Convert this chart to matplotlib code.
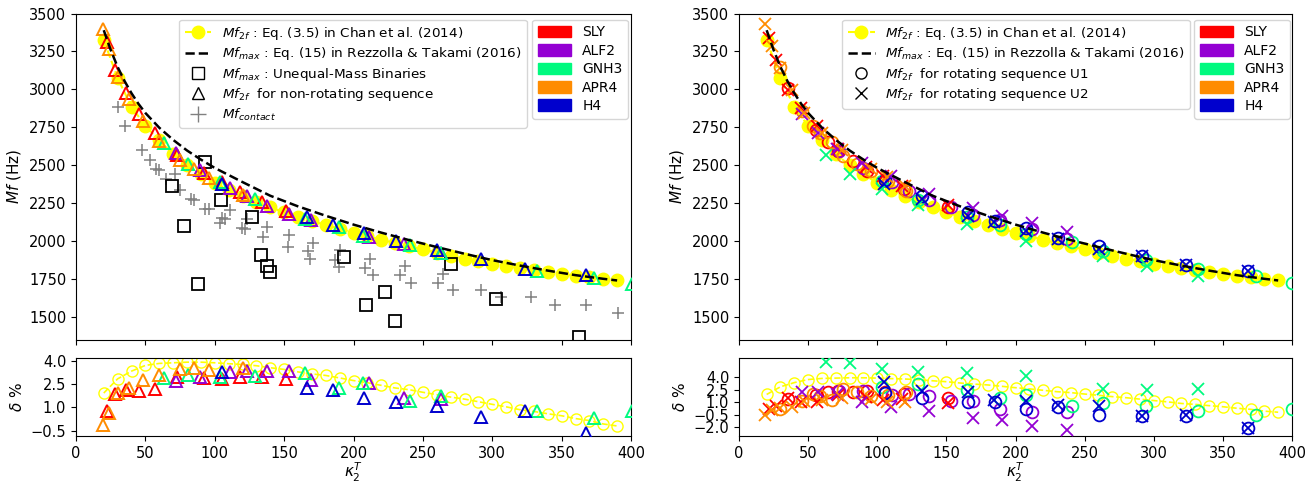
import matplotlib
matplotlib.use("Agg")
import matplotlib.pyplot as plt
from matplotlib.lines import Line2D
from matplotlib.patches import Patch

# Rezzolla & Takami (2016), Eq. (15)
kappa_rt = [20, 25, 30, 35, 40, 45, 50, 60, 70, 80, 90, 100, 120, 140, 160, 180, 200,
            220, 240, 260, 280, 300, 320, 340, 360, 380, 390]
mf_rt = [3390, 3260, 3148, 3055, 2975, 2905, 2845, 2748, 2668, 2598, 2538, 2483, 2390, 2300,
         2230, 2168, 2110, 2057, 2008, 1962, 1918, 1876, 1840, 1807, 1777, 1753, 1742]

# Chan et al. (2014), Eq. (3.5)
kappa_chan = list(range(20, 400, 10))
mf_chan = [3325, 3075, 2885, 2760, 2665, 2575, 2500, 2440, 2385, 2338, 2297, 2260, 2224,
           2191, 2161, 2134, 2108, 2083, 2057, 2033, 2010, 1989, 1967, 1946, 1925, 1905,
           1886, 1868, 1850, 1836, 1822, 1809, 1795, 1783, 1772, 1762, 1754, 1745]
delta_chan = [1.93, 2.85, 3.35, 3.72, 3.85, 3.89, 3.93, 3.93, 3.89, 3.83, 3.78, 3.70, 3.57,
              3.46, 3.30, 3.17, 3.07, 2.91, 2.74, 2.60, 2.43, 2.26, 2.15, 1.98, 1.83, 1.67,
              1.54, 1.37, 1.20, 1.04, 0.85, 0.74, 0.59, 0.46, 0.28, 0.15, -0.07, -0.20]

# Unequal-mass binaries
kappa_unequal = [93, 69.1, 77.6, 87.9, 104.5, 126.7, 133, 137.6, 139.7, 193, 208.8, 222.7,
                 229.7, 270.6, 302.4, 362.7]
mf_unequal = [2521, 2365, 2103, 1720, 2273, 2159, 1913, 1840, 1800, 1899, 1580, 1663, 1474,
              1848, 1618, 1370]

# contact frequency
kappa_contact = [30.5, 35.5, 47.5, 53.3, 58, 60, 65.2, 71.5, 75, 83, 85.3, 93.3, 95.5, 103.5,
                 105.5, 107.5, 111, 119.5, 121.5, 123.5, 135, 138, 153.5, 152.5, 170.7, 167,
                 168.8, 190.4, 186.8, 189.9, 212, 208.4, 214.4, 237.3, 233.2, 241.3, 264.5,
                 261, 271.4, 292.2, 306.3, 327.6, 345.4, 367.4, 390.4]
mf_contact = [2883, 2758, 2602, 2536, 2475, 2468, 2412, 2443, 2338, 2278, 2270, 2215, 2210,
              2120, 2151, 2144, 2206, 2089, 2078, 2149, 2030, 2097, 2044, 1965, 1991, 1935,
              1881, 1940, 1877, 1832, 1885, 1824, 1780, 1838, 1775, 1728, 1787, 1728, 1678,
              1678, 1630, 1630, 1578, 1582, 1530]

eos_names = ["SLY", "ALF2", "GNH3", "APR4", "H4"]
eos_colors = ["#ff0000", "#9400d3", "#00fa7f", "#ff8c00", "#0000cd"]

# non-rotating sequences (left)
kappa_nonrot = {
    "SLY": [22, 28.2, 35.8, 45.3, 57.2, 72.6, 92.4, 105.1, 118.2, 133.9, 151.2],
    "ALF2": [71.8, 89.2, 110.8, 123.3, 137.7, 153.4, 169.4, 211.4, 236.6, 263.4],
    "GNH3": [63.1, 81, 103.5, 129.3, 164.8, 189.7, 207, 240.7, 263.4, 332, 373.4, 400.5],
    "APR4": [19.8, 24, 30.4, 38.2, 48, 59.9, 75.3, 84.8, 96.2, 120],
    "H4": [105.4, 166.4, 185.4, 207.6, 230.4, 260.2, 291.9, 323.6, 367.5],
}
mf_nonrot = {
    "SLY": [3312, 3128, 2978, 2841, 2714, 2571, 2452, 2389, 2327, 2258, 2197],
    "ALF2": [2583, 2467, 2353, 2295, 2233, 2177, 2139, 2026, 1984, 1925],
    "GNH3": [2644, 2511, 2393, 2277, 2144, 2091, 2037, 1978, 1921, 1805, 1756, 1717],
    "APR4": [3400, 3264, 3080, 2937, 2789, 2663, 2538, 2477, 2419, 2305],
    "H4": [2377, 2160, 2106, 2056, 2003, 1941, 1886, 1820, 1780],
}
delta_nonrot = {
    "SLY": [0.78, 1.87, 2.1, 2.07, 2.2, 2.98, 2.89, 2.83, 2.98, 2.98, 2.85],
    "ALF2": [2.7, 2.98, 3.3, 3.35, 3.33, 3.37, 2.8, 2.59, 1.61, 1.54],
    "GNH3": [2.89, 3.13, 2.98, 3.02, 3.2, 2.28, 2.59, 1.39, 1.72, 0.8, 0.3, 0.78],
    "APR4": [-0.15, 0.67, 1.93, 2.24, 2.8, 3.13, 3.52, 3.57, 3.41, 3.57],
    "H4": [3.28, 2.28, 2.15, 1.61, 1.37, 1.07, 0.35, 0.78, -0.67],
}

# rotating sequence U1 (right, circles)
kappa_u1 = {
    "SLY": [35.3, 56, 64.3, 71.6, 82.5, 92.8, 105.6, 119.4, 151.2],
    "ALF2": [72, 89.5, 110.4, 123.2, 137.6, 153, 169.3, 189.1, 211.7, 237.2],
    "GNH3": [103.1, 129.4, 165, 189.1, 207.3, 241, 263.2, 294.4, 332.1, 373.7, 400],
    "APR4": [29.7, 45.9, 53.2, 58.7, 67.6, 75.2, 85.2, 95.6, 108, 120.8],
    "H4": [105.6, 132.7, 165.5, 185, 207.3, 230.4, 260.5, 291.7, 323.5, 368.2],
}
mf_u1 = {
    "SLY": [3007, 2734, 2653, 2595, 2526, 2464, 2403, 2345, 2227],
    "ALF2": [2593, 2482, 2388, 2328, 2269, 2228, 2176, 2138, 2081, 2018],
    "GNH3": [2400, 2273, 2160, 2109, 2051, 1994, 1937, 1878, 1820, 1771, 1727],
    "APR4": [3149, 2859, 2758, 2714, 2652, 2563, 2511, 2462, 2400, 2333],
    "H4": [2405, 2297, 2190, 2132, 2087, 2022, 1970, 1906, 1846, 1804],
}
delta_u1 = {
    "SLY": [1.4, 1.9, 2.24, 2.32, 2.2, 2.32, 2.2, 2.0, 1.52],
    "ALF2": [2.3, 2.32, 1.92, 2.0, 1.8, 1.2, 1.12, 0.2, -0.12, -0.16],
    "GNH3": [2.8, 3.2, 2.44, 1.52, 1.92, 0.6, 0.92, 0.52, 0.0, -0.56, 0.24],
    "APR4": [0.2, 1.2, 2.0, 1.7, 1.32, 2.64, 2.2, 1.8, 1.9, 2.24],
    "H4": [2.1, 1.52, 1.04, 1.04, 0.2, 0.44, -0.48, -0.68, -0.68, -2.12],
}

# rotating sequence U2 (right, crosses)
kappa_u2 = {
    "SLY": [21.7, 27.1, 35.8, 44.7, 56.1, 71.8, 92.0, 104.5, 118.0, 151.2],
    "ALF2": [45.3, 57, 70.6, 89.3, 109.6, 137.6, 169.3, 189.9, 211.7, 237.2],
    "GNH3": [63, 80.6, 103.1, 129.4, 164.7, 207.3, 263.2, 295, 332.1],
    "APR4": [19, 24, 30, 38, 47.2, 60.2, 74.4, 95.5, 106.9, 119.9],
    "H4": [105, 132.7, 165.5, 184.5, 207.3, 230.4, 260.5, 291.7, 323.5, 368.2],
}
mf_u2 = {
    "SLY": [3339, 3194, 2996, 2880, 2758, 2605, 2487, 2430, 2365, 2240],
    "ALF2": [2837, 2716, 2610, 2515, 2427, 2311, 2220, 2165, 2118, 2061],
    "GNH3": [2565, 2446, 2346, 2238, 2115, 2005, 1904, 1839, 1773],
    "APR4": [3432, 3283, 3139, 2994, 2847, 2710, 2599, 2473, 2423, 2365],
    "H4": [2374, 2278, 2164, 2127, 2068, 2016, 1951, 1906, 1843, 1804],
}
delta_u2 = {
    "SLY": [0.2, 0.6, 1.52, 1.0, 1.0, 1.9, 1.6, 1.32, 1.4, 0.92],
    "ALF2": [2.2, 2.2, 2.04, 1.08, 0.44, 0.0, -0.88, -1.16, -1.88, -2.28],
    "GNH3": [5.84, 5.72, 5.0, 4.68, 4.52, 4.12, 2.6, 2.52, 2.6],
    "APR4": [-0.48, 0.1, 0.3, 0.44, 1.12, 1.32, 1.52, 1.4, 1.0, 1.04],
    "H4": [3.44, 2.32, 2.2, 1.32, 1.1, 0.72, 0.52, -0.68, -0.5, -2.12],
}

W, H = 1314, 483
fig = plt.figure(figsize=(W / 100, H / 100), dpi=100)
plt.rcParams["font.size"] = 10.5

def frac(x0, y0, x1, y1):
    return [x0 / W, 1 - y1 / H, (x1 - x0) / W, (y1 - y0) / H]

ax_tl = fig.add_axes(frac(76, 13.5, 631, 340))
ax_bl = fig.add_axes(frac(76, 358, 631, 436))
ax_tr = fig.add_axes(frac(739, 13.5, 1292, 340))
ax_br = fig.add_axes(frac(739, 358, 1292, 436))

lab_chan = "$Mf_{2f}$ : Eq. (3.5) in Chan et al. (2014)"
lab_rt = "$Mf_{max}$ : Eq. (15) in Rezzolla & Takami (2016)"
LEG_FS = 9.7


def draw_top(ax):
    ax.plot(kappa_chan, mf_chan, "--o", color="yellow", ms=9, lw=1.5, zorder=1)
    ax.plot(kappa_rt, mf_rt, "--", color="black", lw=1.8, zorder=5)
    ax.set_xlim(0, 400)
    ax.set_ylim(1350, 3500)
    ax.set_yticks(range(1500, 3501, 250))
    ax.set_xticks(range(0, 401, 50))
    ax.set_xticklabels([])
    ax.set_ylabel("$Mf$ (Hz)", fontsize=11)


def draw_bottom(ax):
    ax.plot(kappa_chan, delta_chan, "--o", color="yellow", mfc="none", ms=8, lw=1.2, zorder=1)
    ax.set_xlim(0, 400)
    ax.set_xticks(range(0, 401, 50))
    ax.set_xlabel(r"$\kappa_2^T$", fontsize=11, labelpad=0)
    ax.set_ylabel(r"$\delta$ %", fontsize=11)


def eos_legend(ax, x_anchor):
    patches = [Patch(color=c, label=n) for n, c in zip(eos_names, eos_colors)]
    ax.legend(handles=patches, loc="upper right", bbox_to_anchor=(x_anchor, 0.981),
              borderaxespad=0, fontsize=10, handlelength=2.4, handleheight=0.9,
              labelspacing=0.32)


# ----- left: non-rotating -----
draw_top(ax_tl)
ax_tl.plot(kappa_contact, mf_contact, "+", color="gray", ms=9, mew=1.1, zorder=2)
ax_tl.plot(kappa_unequal, mf_unequal, "s", color="black", mfc="none", ms=8, mew=1.3, zorder=3)
for name, col in zip(eos_names, eos_colors):
    ax_tl.plot(kappa_nonrot[name], mf_nonrot[name], "^", color=col, mfc="none", ms=8.5,
               mew=1.4, zorder=4)

handles = [
    Line2D([], [], ls="--", marker="o", color="yellow", ms=9, lw=1.5),
    Line2D([], [], ls="--", color="black", lw=1.8),
    Line2D([], [], ls="", marker="s", color="black", mfc="none", ms=8),
    Line2D([], [], ls="", marker="^", color="black", mfc="none", ms=8),
    Line2D([], [], ls="", marker="+", color="gray", ms=12),
]
labels = [lab_chan, lab_rt, "$Mf_{max}$ : Unequal-Mass Binaries",
          "$Mf_{2f}$  for non-rotating sequence", "$Mf_{contact}$"]
leg = ax_tl.legend(handles, labels, loc="upper right", bbox_to_anchor=(0.8126, 0.981),
                   borderaxespad=0, fontsize=LEG_FS, labelspacing=0.25)
ax_tl.add_artist(leg)
eos_legend(ax_tl, 0.9946)

draw_bottom(ax_bl)
for name, col in zip(eos_names, eos_colors):
    ax_bl.plot(kappa_nonrot[name], delta_nonrot[name], "^", color=col, mfc="none", ms=8.5,
               mew=1.4, zorder=4)
ax_bl.set_ylim(-0.85, 4.2)
ax_bl.set_yticks([-0.5, 1.0, 2.5, 4.0])

# ----- right: rotating -----
draw_top(ax_tr)
for name, col in zip(eos_names, eos_colors):
    ax_tr.plot(kappa_u1[name], mf_u1[name], "o", color=col, mfc="none", ms=8.5, mew=1.3, zorder=3)
    ax_tr.plot(kappa_u2[name], mf_u2[name], "x", color=col, ms=8.5, mew=1.3, zorder=4)

handles = [
    Line2D([], [], ls="--", marker="o", color="yellow", ms=9, lw=1.5),
    Line2D([], [], ls="--", color="black", lw=1.8),
    Line2D([], [], ls="", marker="o", color="black", mfc="none", ms=8),
    Line2D([], [], ls="", marker="x", color="black", ms=8),
]
labels = [lab_chan, lab_rt, "$Mf_{2f}$  for rotating sequence U1",
          "$Mf_{2f}$  for rotating sequence U2"]
leg = ax_tr.legend(handles, labels, loc="upper right", bbox_to_anchor=(0.8156, 0.981),
                   borderaxespad=0, fontsize=LEG_FS, labelspacing=0.25)
ax_tr.add_artist(leg)
eos_legend(ax_tr, 0.9964)

draw_bottom(ax_br)
for name, col in zip(eos_names, eos_colors):
    ax_br.plot(kappa_u1[name], delta_u1[name], "o", color=col, mfc="none", ms=8.5, mew=1.3, zorder=3)
    ax_br.plot(kappa_u2[name], delta_u2[name], "x", color=col, ms=8.5, mew=1.3, zorder=4)
ax_br.set_ylim(-3.05, 6.3)
ax_br.set_yticks([-2.0, -0.5, 1.0, 2.5, 4.0])

fig.savefig("out.png", dpi=100)
